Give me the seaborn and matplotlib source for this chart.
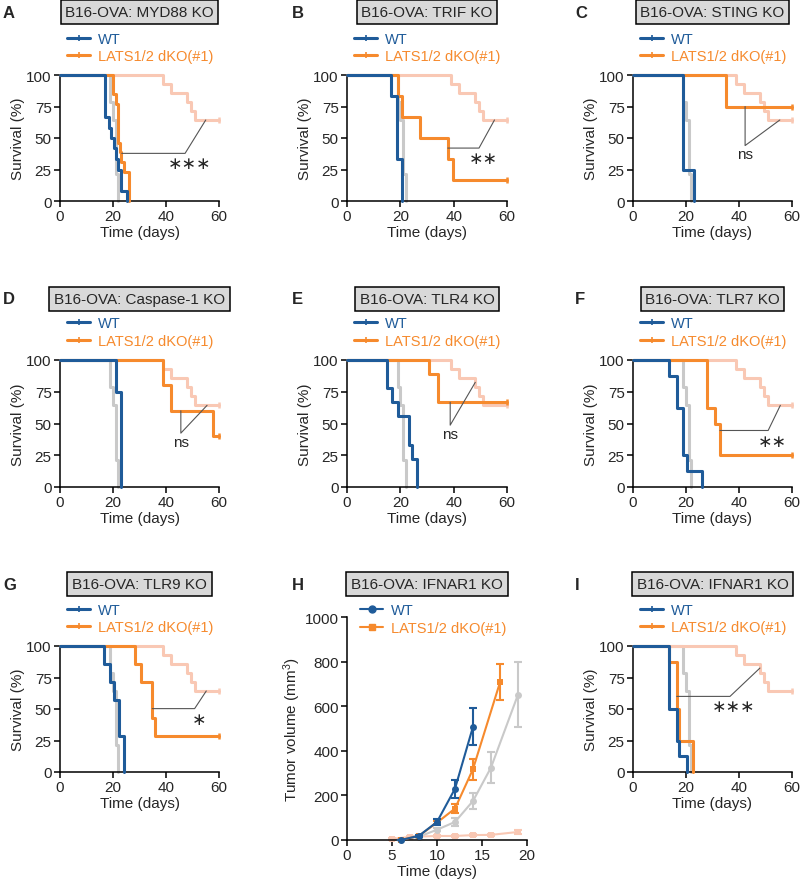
import matplotlib
matplotlib.use("Agg")

import matplotlib.pyplot as plt
import pandas as pd
import seaborn as sns
from matplotlib.lines import Line2D


BLUE = "#1f5b99"
ORANGE = "#f68a2d"
GRAY = "#c9c9c9"
SALMON = "#f9c8b4"
LINK = "#555555"

# reference curves repeated in every survival panel (normal host)
REF_WT_DAYS = [0, 19, 20, 21, 22]
REF_WT_SURV = [100, 78.6, 64.3, 21.4, 0]
REF_KO_DAYS = [0, 39, 42, 48, 49.5, 51, 60]
REF_KO_SURV = [100, 92.9, 85.7, 78.6, 71.4, 64.3, 64.3]

# A: MYD88 KO
A_WT_DAYS = [0, 16.9, 18.4, 19.4, 20.4, 21.1, 21.7, 23, 25.1]
A_WT_SURV = [100, 66.7, 58.3, 50, 41.7, 33.3, 25, 8.3, 0]
A_KO_DAYS = [0, 20, 21.2, 22, 22.6, 23.2, 24, 26.2]
A_KO_SURV = [100, 84.6, 76.9, 46.2, 38.5, 30.8, 23.1, 0]
A_LINK_X = [23.3, 47.2, 55]
A_LINK_Y = [37.8, 37.8, 64.3]

# B: TRIF KO
B_WT_DAYS = [0, 16.5, 18.8, 20.7]
B_WT_SURV = [100, 83.3, 33.3, 0]
B_KO_DAYS = [0, 19.2, 20.7, 27.4, 37.8, 39.9, 60]
B_KO_SURV = [100, 83.3, 66.7, 50, 33.3, 16.7, 16.7]
B_LINK_X = [37.8, 49.5, 55.3]
B_LINK_Y = [42, 42, 64.3]

# C: STING KO
C_WT_DAYS = [0, 18.8, 23]
C_WT_SURV = [100, 25, 0]
C_KO_DAYS = [0, 35, 60]
C_KO_SURV = [100, 75, 75]
C_LINK_X = [42.3, 42.3, 55.4]
C_LINK_Y = [75, 44, 64.3]

# D: Caspase-1 KO
D_WT_DAYS = [0, 21, 22.9]
D_WT_SURV = [100, 75, 0]
D_KO_DAYS = [0, 38.9, 41.7, 57.8, 60]
D_KO_SURV = [100, 80, 60, 40, 40]
D_LINK_X = [45.6, 45.6, 55.5]
D_LINK_Y = [60, 42.4, 64.3]

# E: TLR4 KO
E_WT_DAYS = [0, 14.9, 16.9, 19, 23.3, 24.3, 26.2]
E_WT_SURV = [100, 77.8, 66.7, 55.6, 33.3, 22.2, 0]
E_KO_DAYS = [0, 30.8, 34, 60]
E_KO_SURV = [100, 88.9, 66.7, 66.7]
E_LINK_X = [38.7, 38.7, 48.1]
E_LINK_Y = [66.7, 48.7, 82.4]

# F: TLR7 KO
F_WT_DAYS = [0, 13.4, 16.5, 18.8, 20.3, 26.1]
F_WT_SURV = [100, 87.5, 62.5, 25, 12.5, 0]
F_KO_DAYS = [0, 27.8, 30.9, 32.8, 60]
F_KO_SURV = [100, 62.5, 50, 25, 25]
F_LINK_X = [32.8, 51, 55.6]
F_LINK_Y = [44.5, 44.5, 64.3]

# G: TLR9 KO
G_WT_DAYS = [0, 16.7, 18.7, 20.5, 22.3, 24.1]
G_WT_SURV = [100, 85.7, 71.4, 57.1, 28.6, 0]
G_KO_DAYS = [0, 28.2, 30.7, 34.8, 35.8, 60]
G_KO_SURV = [100, 85.7, 71.4, 42.9, 28.6, 28.6]
G_LINK_X = [34.8, 50.8, 55.2]
G_LINK_Y = [50.3, 50.3, 64.3]

# I: IFNAR1 KO survival
I_WT_DAYS = [0, 13.4, 16.5, 17.4, 20.5]
I_WT_SURV = [100, 50, 25, 12.5, 0]
I_KO_DAYS = [0, 13.4, 16.5, 17.4, 22.8]
I_KO_SURV = [100, 87.5, 50, 25, 0]
I_LINK_X = [16.5, 36.6, 47.9]
I_LINK_Y = [60, 60, 82.5]

# H: IFNAR1 KO tumor growth (mean, sem)
H_WT_DAYS = [6, 8, 10, 12, 14]
H_WT_VOL = [0, 19, 81, 230, 508]
H_WT_SEM = [2, 5, 15, 40, 82]
H_KO_DAYS = [6, 8, 10, 12, 14, 17]
H_KO_VOL = [0, 19, 78, 141, 318, 707]
H_KO_SEM = [2, 5, 8, 22, 47, 80]
H_REF_WT_DAYS = [6, 8, 10, 12, 14, 16, 19]
H_REF_WT_VOL = [0, 15, 46, 81, 175, 325, 652]
H_REF_WT_SEM = [2, 4, 6, 18, 34, 70, 145]
H_REF_KO_DAYS = [5, 7, 10, 12, 14, 16, 19]
H_REF_KO_VOL = [5, 14, 18, 18, 22, 23, 36]
H_REF_KO_SEM = [3, 4, 5, 5, 6, 6, 10]

W, H = 800, 887


def px_axes(fig, left, top, right, bottom):
    return fig.add_axes([left / W, 1 - bottom / H, (right - left) / W, (bottom - top) / H])


def step_curve(ax, days, surv, color, z):
    df = pd.DataFrame({"day": days, "surv": surv})
    sns.lineplot(data=df, x="day", y="surv", ax=ax, color=color, lw=2.2,
                 drawstyle="steps-post", estimator=None, sort=False,
                 clip_on=False, legend=False, zorder=z)
    if surv[-1] > 0:
        ax.plot([days[-1]], [surv[-1]], marker="|", ms=5, mew=1.8, color=color,
                clip_on=False, zorder=z)


def style_axes(ax):
    sns.despine(ax=ax)
    for side in ("left", "bottom"):
        ax.spines[side].set_linewidth(1.1)
        ax.spines[side].set_color("black")
    ax.tick_params(length=4, width=1.1, labelsize=11, pad=2, color="black")
    ax.set_xlabel("Time (days)", fontsize=11, labelpad=1)


def add_legend(ax, handles, x, y):
    ax.legend(handles, ["WT", "LATS1/2 dKO(#1)"], loc="center left",
              bbox_to_anchor=(x, y), frameon=False, fontsize=10.5,
              handlelength=1.6, handletextpad=0.5, labelspacing=0.25,
              borderpad=0, borderaxespad=0, labelcolor="linecolor")


def survival_panel(ax, wt_days, wt_surv, ko_days, ko_surv, link_x, link_y, sig):
    step_curve(ax, REF_WT_DAYS, REF_WT_SURV, GRAY, 2)
    step_curve(ax, REF_KO_DAYS, REF_KO_SURV, SALMON, 2)
    step_curve(ax, wt_days, wt_surv, BLUE, 4)
    step_curve(ax, ko_days, ko_surv, ORANGE, 3)
    ax.plot(link_x, link_y, color=LINK, lw=0.8, zorder=5)
    if sig == "ns":
        ax.text(link_x[1], link_y[1] - 7, sig, ha="center", va="center", fontsize=11)
    else:
        ax.text(link_x[1] + 1.5, link_y[1] - 8, sig.replace("*", "\u2217"),
                ha="center", va="center", fontsize=12.5, family="DejaVu Sans")
    ax.set_xlim(0, 60)
    ax.set_ylim(0, 100)
    ax.set_xticks([0, 20, 40, 60])
    ax.set_yticks([0, 25, 50, 75, 100])
    ax.set_ylabel("Survival (%)", fontsize=11, labelpad=1)
    style_axes(ax)
    handles = [Line2D([], [], color=c, lw=2.2, marker="|", ms=4, mew=1.2) for c in (BLUE, ORANGE)]
    add_legend(ax, handles, 0.044, 1.218)


def main() -> None:
    sns.set_theme(style="ticks")
    plt.rcParams["font.family"] = ["Liberation Sans", "DejaVu Sans"]
    plt.rcParams["mathtext.default"] = "regular"

    fig = plt.figure(figsize=(W / 100, H / 100), dpi=100)

    cols = [(60, 219), (347, 507), (633, 792)]
    rows = [(76, 202), (361, 488), (647, 773)]
    title_y = [13, 300, 585]
    letter_x = [3, 292, 575]

    panels = [
        ("A", 0, 0, "B16-OVA: MYD88 KO", (A_WT_DAYS, A_WT_SURV, A_KO_DAYS, A_KO_SURV, A_LINK_X, A_LINK_Y, "***")),
        ("B", 0, 1, "B16-OVA: TRIF KO", (B_WT_DAYS, B_WT_SURV, B_KO_DAYS, B_KO_SURV, B_LINK_X, B_LINK_Y, "**")),
        ("C", 0, 2, "B16-OVA: STING KO", (C_WT_DAYS, C_WT_SURV, C_KO_DAYS, C_KO_SURV, C_LINK_X, C_LINK_Y, "ns")),
        ("D", 1, 0, "B16-OVA: Caspase-1 KO", (D_WT_DAYS, D_WT_SURV, D_KO_DAYS, D_KO_SURV, D_LINK_X, D_LINK_Y, "ns")),
        ("E", 1, 1, "B16-OVA: TLR4 KO", (E_WT_DAYS, E_WT_SURV, E_KO_DAYS, E_KO_SURV, E_LINK_X, E_LINK_Y, "ns")),
        ("F", 1, 2, "B16-OVA: TLR7 KO", (F_WT_DAYS, F_WT_SURV, F_KO_DAYS, F_KO_SURV, F_LINK_X, F_LINK_Y, "**")),
        ("G", 2, 0, "B16-OVA: TLR9 KO", (G_WT_DAYS, G_WT_SURV, G_KO_DAYS, G_KO_SURV, G_LINK_X, G_LINK_Y, "*")),
        ("H", 2, 1, "B16-OVA: IFNAR1 KO", None),
        ("I", 2, 2, "B16-OVA: IFNAR1 KO", (I_WT_DAYS, I_WT_SURV, I_KO_DAYS, I_KO_SURV, I_LINK_X, I_LINK_Y, "***")),
    ]

    for letter, r, c, title, data in panels:
        left, right = cols[c]
        top, bottom = rows[r]
        if data is not None:
            ax = px_axes(fig, left, top, right, bottom)
            survival_panel(ax, *data)
        else:
            ax = px_axes(fig, 347, 618, 527, 841)
            for days, vol, sem, color, marker, z in [
                (H_REF_KO_DAYS, H_REF_KO_VOL, H_REF_KO_SEM, SALMON, "s", 2),
                (H_REF_WT_DAYS, H_REF_WT_VOL, H_REF_WT_SEM, GRAY, "o", 2),
                (H_KO_DAYS, H_KO_VOL, H_KO_SEM, ORANGE, "s", 3),
                (H_WT_DAYS, H_WT_VOL, H_WT_SEM, BLUE, "o", 4),
            ]:
                df = pd.DataFrame({"day": days, "vol": vol})
                sns.lineplot(data=df, x="day", y="vol", ax=ax, color=color, lw=1.5,
                             marker=marker, markersize=5, markeredgewidth=0,
                             legend=False, zorder=z, clip_on=False)
                ax.errorbar(days, vol, yerr=sem, fmt="none", ecolor=color, elinewidth=1.5,
                            capsize=3, capthick=1.5, zorder=z, clip_on=False)
            ax.set_xlim(0, 20)
            ax.set_ylim(0, 1000)
            ax.set_xticks([0, 5, 10, 15, 20])
            ax.set_yticks(range(0, 1001, 200))
            ax.set_ylabel("Tumor volume (mm$^{3}$)", fontsize=11, labelpad=1)
            style_axes(ax)
            handles = [Line2D([], [], color=BLUE, lw=1.5, marker="o", ms=5),
                       Line2D([], [], color=ORANGE, lw=1.5, marker="s", ms=5)]
            add_legend(ax, handles, 0.072, 0.99)
        fig.text((left + right) / 2 / W, 1 - title_y[r] / H, title, ha="center", va="center",
                 fontsize=11,
                 bbox=dict(boxstyle="square,pad=0.3", fc="#d9d9d9", ec="black", lw=1.1))
        fig.text(letter_x[c] / W, 1 - title_y[r] / H, letter, ha="left", va="center",
                 fontsize=12, fontweight="bold")

    fig.savefig("out.png", dpi=100)
    plt.close(fig)


if __name__ == "__main__":
    main()
